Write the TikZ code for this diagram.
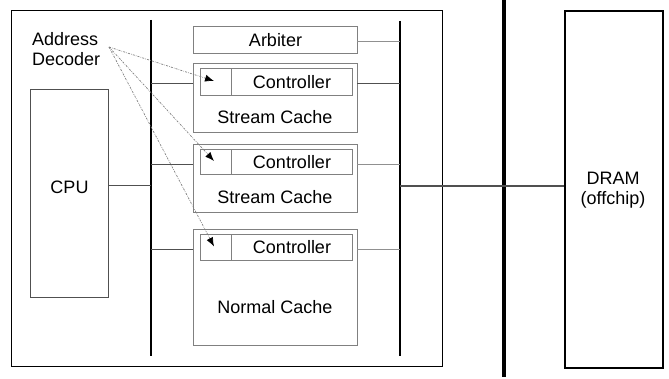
\documentclass[tikz,border=0pt]{standalone}
\usepackage{fontspec}
\setmainfont{Liberation Sans}
\usetikzlibrary{arrows.meta,calc}
\definecolor{boxgray}{HTML}{808080}
\definecolor{wiregray}{HTML}{505050}
\definecolor{dotgray}{HTML}{909090}
\begin{document}
\begin{tikzpicture}[x=1pt,y=-1pt,
  lbl/.style={font=\fontsize{18}{19.5}\selectfont, inner sep=0pt, align=center},
  blk/.style={draw=boxgray, line width=1pt, inner sep=0pt, anchor=north west},
  wire/.style={draw=wiregray, line width=1pt},
  bus/.style={draw=black, line cap=butt},
  decline/.style={draw=gray, line width=0.7pt, dash pattern=on 2pt off 1.2pt on 0.6pt off 1.2pt,
    -{Latex[length=9pt,width=7pt]}, arrows={[black]}}]
\useasboundingbox (0,0) rectangle (669,379);
\fill[white] (0,0) rectangle (669,379);

% chip boundary
\node[draw=black, line width=1.4pt, inner sep=0pt, anchor=north west,
  minimum width=431pt, minimum height=356pt] (chip) at (11,10) {};

% buses
\coordinate (lbT) at (151,20); \coordinate (lbB) at (151,356);
\coordinate (rbT) at (400,21); \coordinate (rbB) at (400,356);
\coordinate (obT) at (504,0);  \coordinate (obB) at (504,377);
\draw[bus, line width=2.4pt] (lbT) -- (lbB);
\draw[bus, line width=2.4pt] (rbT) -- (rbB);
\draw[bus, line width=3.6pt] (obT) -- (obB);

% CPU
\node[blk, draw=wiregray, minimum width=78pt, minimum height=208pt] (cpu) at (30,89) {};
\node[lbl] (cput) at ($(cpu.center)+(0,-6)$) {CPU};

% Arbiter
\node[blk, minimum width=164pt, minimum height=27pt] (arb) at (193,26) {};
\node[lbl] (arbt) at (arb.center) {Arbiter};

% Stream cache 1
\node[blk, minimum width=164pt, minimum height=69pt] (s1) at (193,63) {};
\node[blk, minimum width=31pt, minimum height=27pt] (c1a) at (200,68) {};
\node[blk, minimum width=121pt, minimum height=27pt] (c1b) at (231,68) {};
\node[lbl] (c1t) at (c1b.center) {Controller};
\node[lbl] (s1t) at (275,117) {Stream Cache};

% Stream cache 2
\node[blk, minimum width=164pt, minimum height=68pt] (s2) at (193,144) {};
\node[blk, minimum width=31pt, minimum height=25pt] (c2a) at (200,149) {};
\node[blk, minimum width=121pt, minimum height=25pt] (c2b) at (231,149) {};
\node[lbl] (c2t) at (c2b.center) {Controller};
\node[lbl] (s2t) at (275,197) {Stream Cache};

% Normal cache
\node[blk, minimum width=164pt, minimum height=116pt] (nc) at (193,229) {};
\node[blk, minimum width=31pt, minimum height=26pt] (c3a) at (200,234) {};
\node[blk, minimum width=121pt, minimum height=26pt] (c3b) at (231,234) {};
\node[lbl] (c3t) at (c3b.center) {Controller};
\node[lbl] (nct) at (275,307) {Normal Cache};

% DRAM
\node[draw=black, line width=1.8pt, inner sep=0pt, anchor=north west,
  minimum width=98pt, minimum height=357pt] (dram) at (564,10) {};
\node[lbl] (dramt) at (613,190) {DRAM\\(offchip)};

% Address decoder
\node[lbl, anchor=west, align=left] (dec) at (32,49) {Address\\Decoder};
\coordinate (decp) at (109,47);

% ports
\coordinate (s1p) at (193,84);
\coordinate (s2p) at (193,165);
\coordinate (ncp) at (193,250);
\coordinate (s1q) at (357,84);
\coordinate (s2q) at (357,165);
\coordinate (ncq) at (357,250);
\coordinate (arq) at (357,42);
\coordinate (cpp) at (108,186);
\coordinate (dmp) at (564,186);

% connections left bus
\draw[wire] (cpp) -- (cpp -| lbT);
\draw[wire] (s1p -| lbT) -- (s1p);
\draw[wire] (s2p -| lbT) -- (s2p);
\draw[wire] (ncp -| lbT) -- (ncp);
% connections right bus
\draw[wire, draw=dotgray] (arq) -- (arq -| rbT);
\draw[wire] (s1q) -- (s1q -| rbT);
\draw[wire, draw=dotgray] (s2q) -- (s2q -| rbT);
\draw[wire, draw=dotgray] (ncq) -- (ncq -| rbT);
\draw[wire, line width=1.3pt] (dmp -| rbT) -- (dmp);

% address decoder lines
\draw[decline] (decp) -- ($(c1a.center)+(-2,-1)$);
\draw[decline] (decp) -- ($(c2a.center)+(-2,-1)$);
\draw[decline] (decp) -- ($(c3a.center)+(-2,-1)$);
\end{tikzpicture}
\end{document}
